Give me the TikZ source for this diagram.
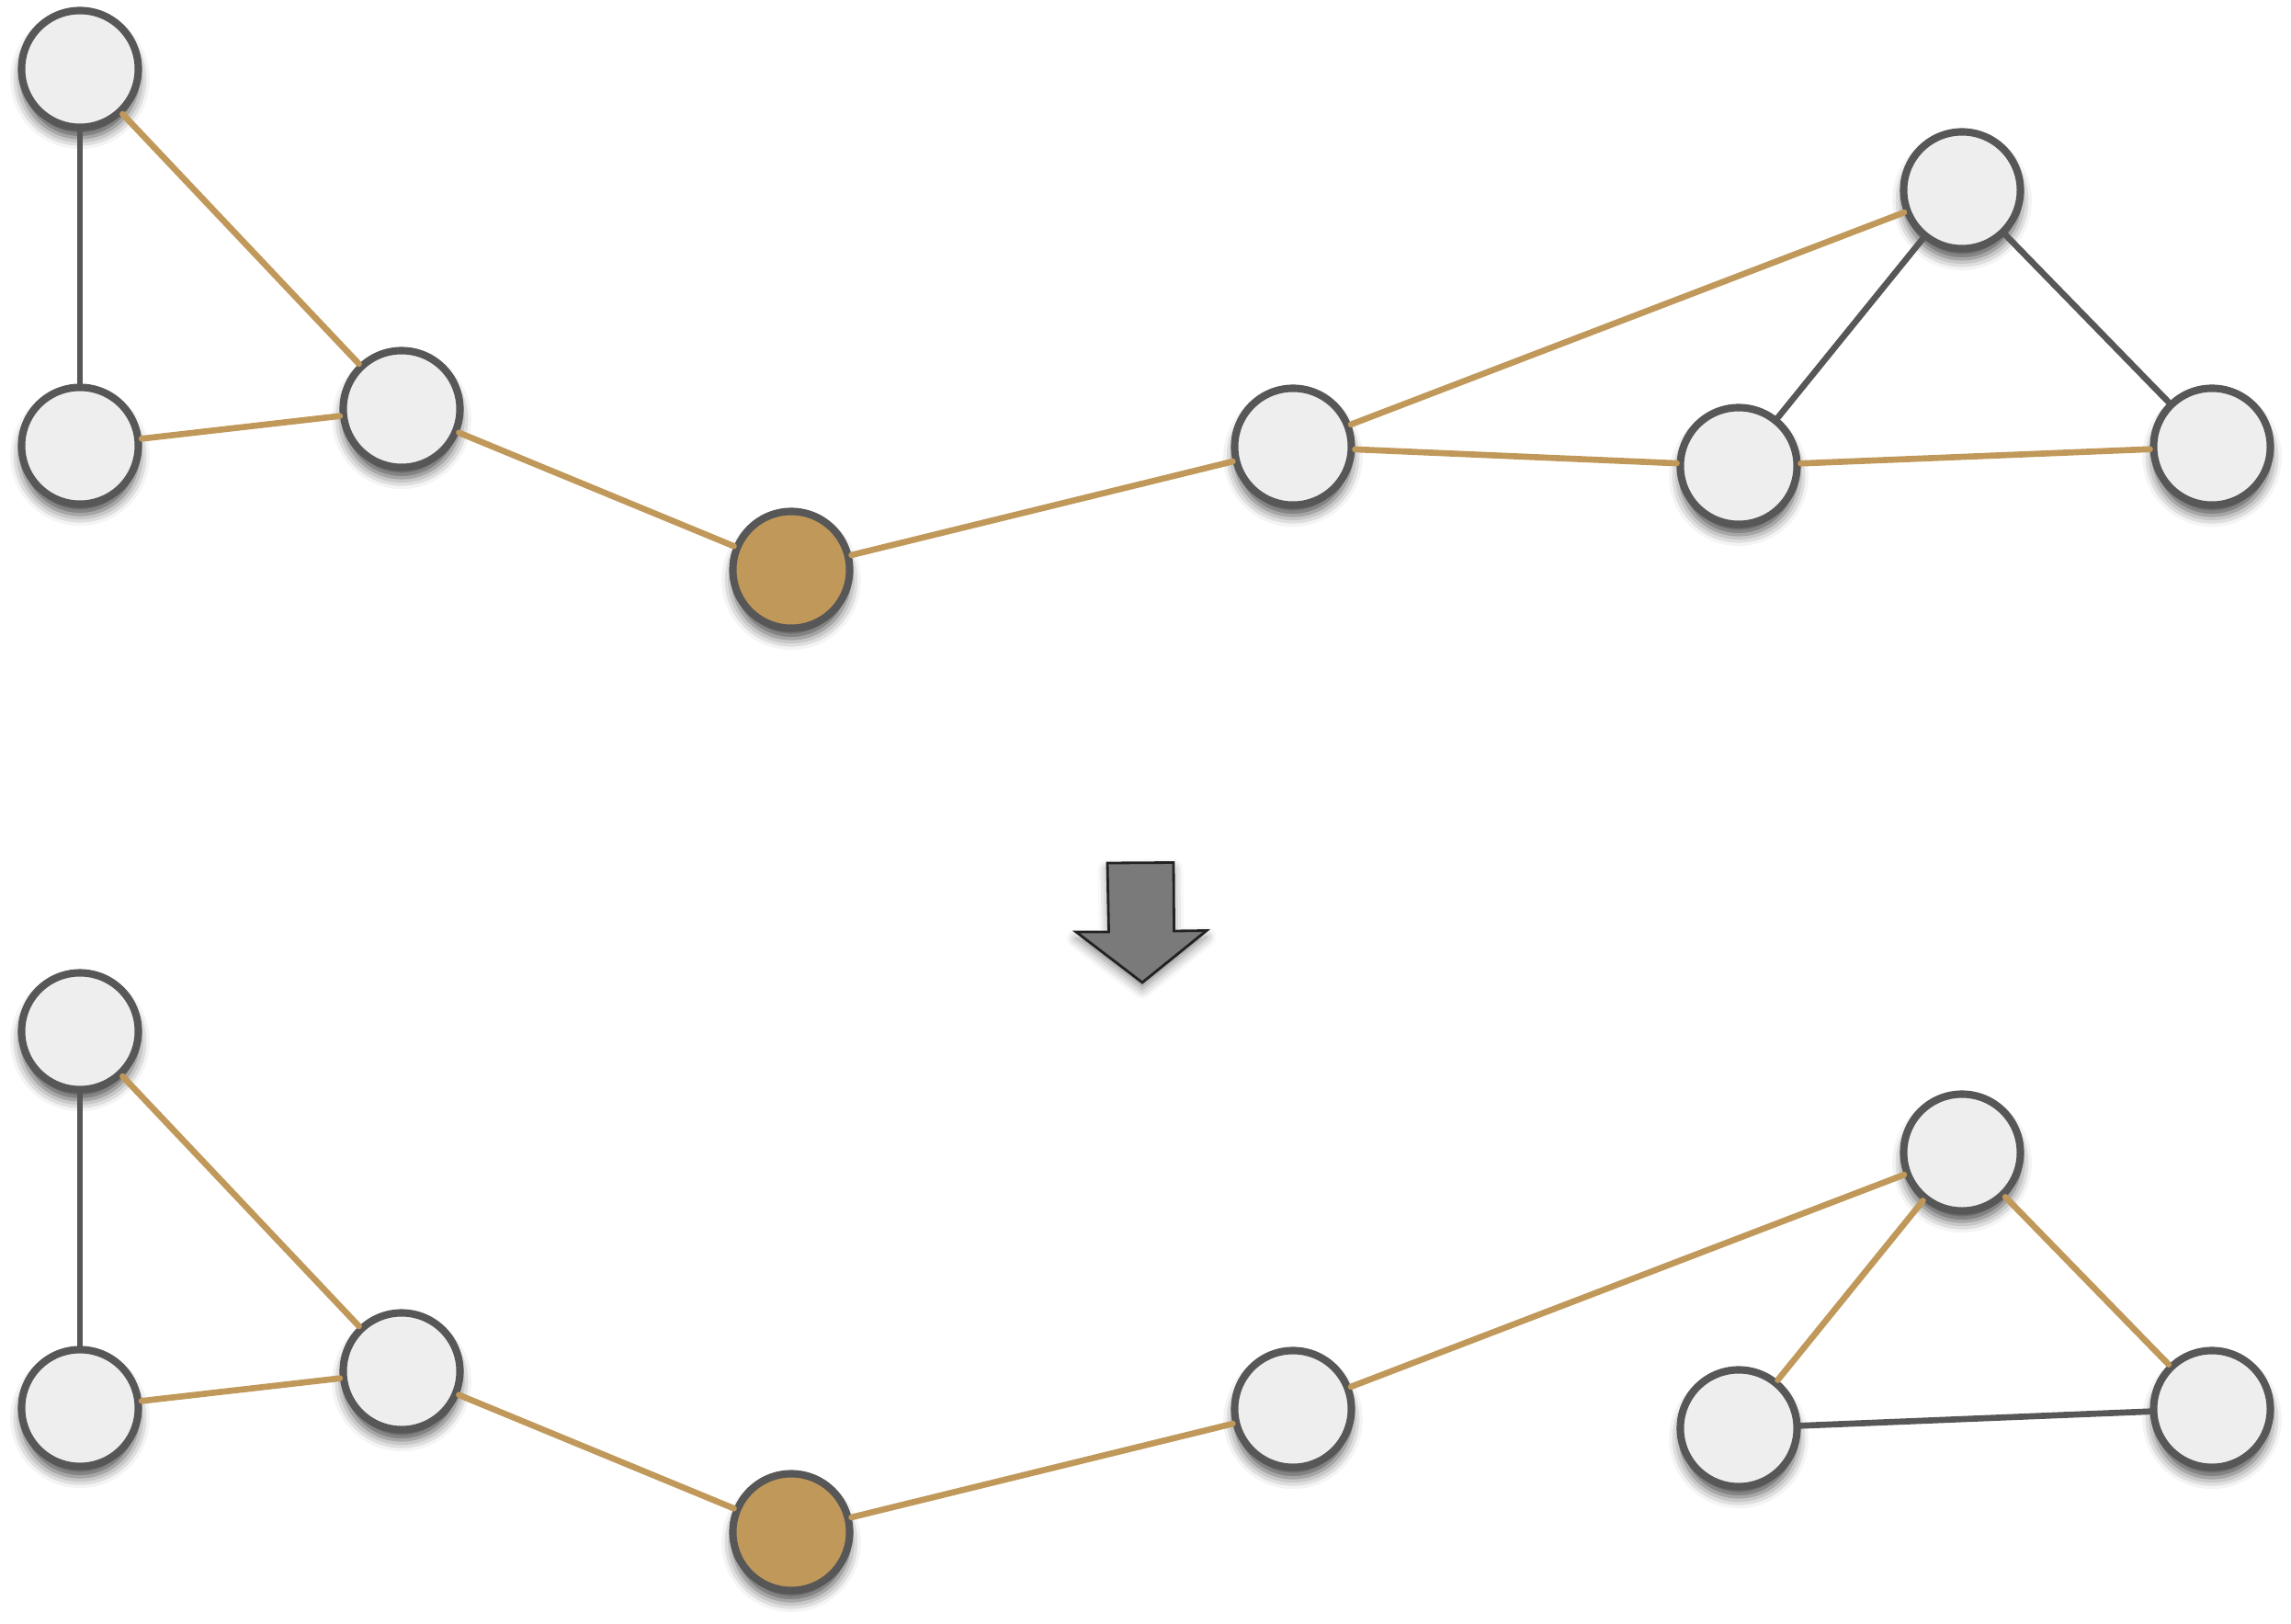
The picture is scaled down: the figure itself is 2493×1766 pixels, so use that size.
\documentclass[tikz,border=0pt]{standalone}
\usetikzlibrary{shadows.blur}
\definecolor{gold}{HTML}{C0985A}
\definecolor{rim}{HTML}{575757}
\definecolor{pale}{HTML}{EEEEEE}
\definecolor{arrowfill}{HTML}{7A7A7A}
\definecolor{arrowrim}{HTML}{222222}
\tikzset{
  vtx/.style={circle, draw=rim, line width=2.3pt, fill=pale, minimum size=1.27cm, inner sep=0pt,
    blur shadow={shadow xshift=0pt, shadow yshift=-3.2pt, shadow blur radius=3.5pt, shadow opacity=70}},
  hub/.style={vtx, fill=gold},
  goldedge/.style={draw=gold, line width=1.9pt, line cap=round},
  darkedge/.style={draw=rim, line width=1.9pt, line cap=round},
}
\begin{document}
\begin{tikzpicture}[x=0.01cm, y=-0.01cm]
\useasboundingbox (0,0) rectangle (2493,1766);
% top graph
\node[vtx] (a1) at (87,75) {};
\node[vtx] (a2) at (87,485) {};
\node[vtx] (a3) at (437,445) {};
\node[hub] (g) at (861,620) {};
\node[vtx] (b1) at (1407,486) {};
\node[vtx] (b2) at (2135,207) {};
\node[vtx] (b3) at (1892,507) {};
\node[vtx] (b4) at (2407,486) {};
\draw[darkedge] (a1) -- (a2);
\draw[goldedge] (a1) -- (a3);
\draw[goldedge] (a2) -- (a3);
\draw[goldedge] (a3) -- (g);
\draw[goldedge] (g) -- (b1);
\draw[goldedge] (b1) -- (b2);
\draw[goldedge] (b1) -- (b3);
\draw[darkedge] (b2) -- (b3);
\draw[darkedge] (b2) -- (b4);
\draw[goldedge] (b3) -- (b4);
% arrow
\coordinate (p1) at (1205,939);
\coordinate (p2) at (1277,938.5);
\coordinate (p3) at (1277.5,1013);
\coordinate (p4) at (1313,1012.5);
\coordinate (p5) at (1243,1069);
\coordinate (p6) at (1171,1014);
\coordinate (p7) at (1206.5,1014);
\path[fill=arrowfill, draw=arrowrim, line width=0.8pt, line join=miter,
  blur shadow={shadow xshift=0pt, shadow yshift=-2pt, shadow blur radius=3pt, shadow opacity=45}]
  (p1) -- (p2) -- (p3) -- (p4) -- (p5) -- (p6) -- (p7) -- cycle;
% bottom graph
\node[vtx] (c1) at (87,1122) {};
\node[vtx] (c2) at (87,1532) {};
\node[vtx] (c3) at (437,1492) {};
\node[hub] (h) at (861,1667) {};
\node[vtx] (d1) at (1407,1533) {};
\node[vtx] (d2) at (2135,1254) {};
\node[vtx] (d3) at (1892,1554) {};
\node[vtx] (d4) at (2407,1533) {};
\draw[darkedge] (c1) -- (c2);
\draw[goldedge] (c1) -- (c3);
\draw[goldedge] (c2) -- (c3);
\draw[goldedge] (c3) -- (h);
\draw[goldedge] (h) -- (d1);
\draw[goldedge] (d1) -- (d2);
\draw[goldedge] (d2) -- (d3);
\draw[goldedge] (d2) -- (d4);
\draw[darkedge] (d3) -- (d4);
\end{tikzpicture}
\end{document}
